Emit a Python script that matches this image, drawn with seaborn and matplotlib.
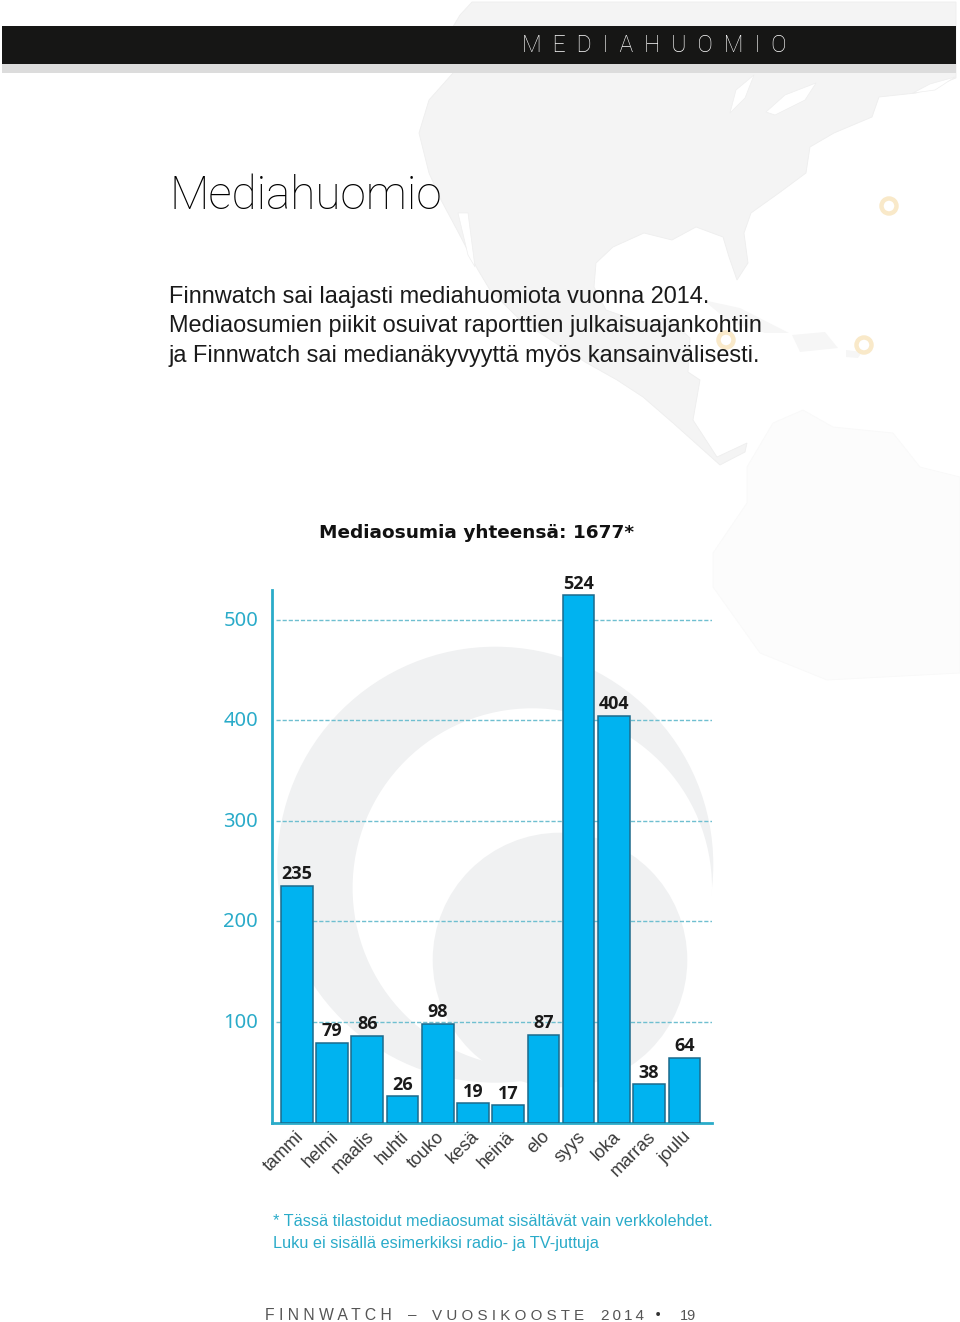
import matplotlib
matplotlib.use("Agg")
import matplotlib.pyplot as plt
import matplotlib.transforms as mtrans
from matplotlib.patches import Circle, Rectangle
import pandas as pd
import seaborn as sns

months = ['tammi', 'helmi', 'maalis', 'huhti', 'touko', 'kesä', 'heinä', 'elo', 'syys', 'loka', 'marras', 'joulu']
hits = [235, 79, 86, 26, 98, 19, 17, 87, 524, 404, 38, 64]
yticks = [100, 200, 300, 400, 500]

intro = ["Finnwatch sai laajasti mediahuomiota vuonna 2014.",
         "Mediaosumien piikit osuivat raporttien julkaisuajankohtiin",
         "ja Finnwatch sai medianäkyvyyttä myös kansainvälisesti."]
notes = ["* Tässä tilastoidut mediaosumat sisältävät vain verkkolehdet.",
         "Luku ei sisällä esimerkiksi radio- ja TV-juttuja"]

# background map, in page pixels
north_america = [(472, 2), (956, 2), (956, 78), (916, 93), (879, 97), (872, 117), (834, 133), (810, 147),
                 (806, 173), (779, 193), (751, 213), (744, 233), (748, 263), (737, 280), (729, 257), (723, 237),
                 (696, 227), (672, 240), (644, 233), (613, 247), (596, 263), (594, 287), (606, 310), (640, 322),
                 (668, 318), (690, 338), (688, 372), (700, 380), (693, 420), (717, 457), (747, 443), (745, 452),
                 (720, 465), (673, 423), (643, 397), (617, 380), (585, 362), (520, 320), (490, 290), (478, 270),
                 (456, 228), (441, 200), (429, 173), (419, 133), (429, 100), (453, 73), (445, 40), (460, 15)]
south_america = [(747, 467), (773, 423), (803, 410), (833, 427), (893, 433), (920, 467), (960, 477), (960, 673),
                 (827, 680), (760, 653), (713, 587), (713, 553), (747, 503)]
islands = [[(703, 300), (740, 308), (789, 333), (765, 333), (730, 322)],
           [(792, 335), (825, 332), (838, 348), (800, 352)],
           [(846, 350), (862, 352), (858, 358), (846, 357)]]
lakes = [[(730, 113), (736, 90), (754, 75), (745, 98)],
         [(766, 112), (785, 95), (816, 83), (805, 100), (775, 115)],
         [(913, 93), (930, 84), (955, 77), (935, 90)],
         [(458, 213), (468, 213), (475, 267), (468, 255)]]
markers = [(889, 206), (864, 345), (726, 340)]

sns.set_theme(style="white")
plt.rcParams['font.family'] = ['Noto Sans', 'DejaVu Sans']

fig = plt.figure(figsize=(9.6, 13.22), dpi=100, facecolor='white')

bg = fig.add_axes([0, 0, 1, 1])
bg.set_xlim(0, 960)
bg.set_ylim(1322, 0)
bg.axis('off')
bg.fill(*zip(*north_america), color='#f4f4f4', ec='#eeeeee', lw=0.6)
bg.fill(*zip(*south_america), color='#fcfcfc', ec='#f9f9f9', lw=0.6)
for shape in islands:
    bg.fill(*zip(*shape), color='#f6f6f6', ec='none')
for shape in lakes:
    bg.fill(*zip(*shape), color='white', ec='#eeeeee', lw=0.5)
for pos in markers:
    bg.add_patch(Circle(pos, 7.5, fc='none', ec='#f9e9c9', lw=3.2))
bg.add_patch(Circle((495.3, 864.7), 218, fc='#f0f1f2', ec='none'))
bg.add_patch(Circle((532.3, 888), 179.7, fc='white', ec='none'))
bg.add_patch(Circle((560, 960), 127.3, fc='#f0f1f2', ec='none'))
bg.add_patch(Rectangle((2, 26), 954, 38, fc='#161615', ec='none'))
bg.add_patch(Rectangle((2, 64), 954, 9, fc='#dcdcdc', ec='none'))

ax = fig.add_axes([272 / 960, 1 - 1122.6 / 1322, 440 / 960, 532.6 / 1322])
ax.patch.set_alpha(0)
df = pd.DataFrame({'month': months, 'hits': hits})
sns.barplot(data=df, x='month', y='hits', color='#00b3f0', saturation=1, width=0.897,
            edgecolor='#1c6a8c', linewidth=1.1, zorder=3, ax=ax)
ax.set_xlim(-0.704, 11.785)
ax.set_ylim(0, 529.4)
ax.set_xlabel('')
ax.set_ylabel('')
ax.set_yticks(yticks)
ax.hlines(yticks, -0.59, 11.785, color='#6fbfd0', lw=1, ls=(0, (3, 1.4)), zorder=1)
sns.despine(ax=ax)
for side in ['left', 'bottom']:
    ax.spines[side].set_color('#2aabc9')
    ax.spines[side].set_linewidth(2)
ax.tick_params(axis='y', length=0, pad=10, labelsize=14.5, labelcolor='#2aabc9')
ax.tick_params(axis='x', length=0, pad=4, labelsize=13, labelcolor='#3a3a3a')

lift = mtrans.ScaledTranslation(0, 1.5 / 100, fig.dpi_scale_trans)
for label in ax.get_yticklabels():
    label.set_transform(label.get_transform() + lift)

shift = mtrans.ScaledTranslation(-2 / 100, 0, fig.dpi_scale_trans)
for label in ax.get_xticklabels():
    label.set_rotation(45)
    label.set_ha('right')
    label.set_rotation_mode('anchor')
    label.set_family('Liberation Sans')
    label.set_transform(label.get_transform() + shift)

ax.bar_label(ax.containers[0], labels=[str(v) for v in hits], padding=2,
             fontsize=13, fontweight='bold', family='Open Sans', color='#1a1a1a')


def page_text(x, y, s, **kw):
    bg.text(x, y, s, va='center', **kw)


page_text(522, 45, '  '.join('MEDIAHUOMIO'), color='white', fontsize=16.5, family='Roboto', fontweight='light')
page_text(169, 196, 'Mediahuomio', color='black', fontsize=33, family='Roboto', fontweight='light')
for i, line in enumerate(intro):
    page_text(169, 297 + i * 29.3, line, color='#1a1a1a', fontsize=16.95, family='Liberation Sans')
page_text(319, 533, 'Mediaosumia yhteensä: 1677*', color='#111111', fontsize=13.3, family='DejaVu Sans',
          fontweight='bold')
for i, line in enumerate(notes):
    page_text(273, 1221.5 + i * 22, line, color='#2aabc9', fontsize=11.7, family='Liberation Sans')
footer = {'color': '#555555', 'family': 'Liberation Sans'}
page_text(265, 1315.5, ' '.join('FINNWATCH'), fontsize=11.3, **footer)
page_text(408, 1315.5, '–', fontsize=11, **footer)
page_text(432, 1315.5, ' '.join('VUOSIKOOSTE'), fontsize=10.9, **footer)
page_text(601, 1315.5, '\u2009'.join('2014'), fontsize=11, **footer)
page_text(655, 1315.5, '•', color='#333333', fontsize=12)
page_text(680, 1315.5, '19', fontsize=10.5, **footer)

fig.savefig('out.png', dpi=100)
